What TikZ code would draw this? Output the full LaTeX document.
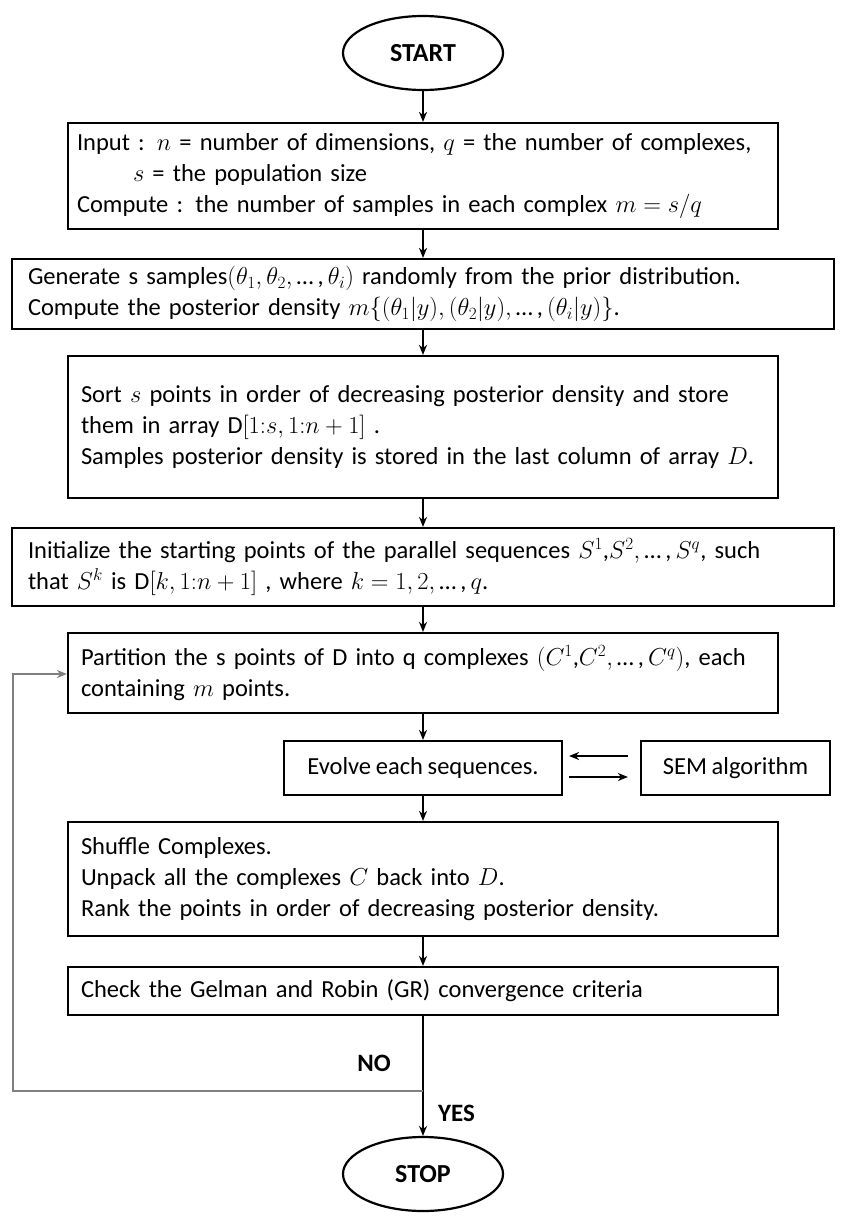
\RequirePackage{fix-cm}
\documentclass[tikz,border=0pt]{standalone}
\usepackage{fontspec}
\setmainfont{Carlito}[WordSpace=0.85]
\usetikzlibrary{arrows.meta,shapes.geometric}
\newcommand{\boxfont}{\fontsize{24.5}{31}\selectfont}
\newcommand{\eli}{\,…\,,\,}
\begin{document}
\begin{tikzpicture}[x=1pt,y=-1pt,
  box/.style={draw=black, line width=2.2pt, rectangle, inner ysep=0pt, align=left,
    font=\boxfont, anchor=center},
  term/.style={draw=black, ellipse, line width=2.2pt, minimum width=160pt, minimum height=74pt,
    inner sep=0pt, font=\fontsize{26}{30}\selectfont\bfseries},
  arr/.style={-{Stealth[length=10pt,width=8pt]}, line width=2pt},
  back/.style={draw=gray, line width=1.8pt, -{Stealth[length=10pt,width=8pt]}},
  lab/.style={font=\fontsize{25}{30}\selectfont\bfseries, inner sep=0pt}]
\useasboundingbox (0,0) rectangle (843,1216);
% terminals
\node[term] (start) at (423,53) {START};
\node[term] (stop) at (423,1174) {STOP};
% boxes
\node[box, inner xsep=9pt, text width=692pt, minimum height=106pt] (b1) at (423,176)
 {\mbox{Input : $n$ = number of dimensions, $q$ = the number of complexes,}\\
  \hspace*{56pt}$s$ = the population size\\
  \mbox{Compute : the number of samples in each complex $m=s/q$}};
\node[box, inner xsep=16pt, text width=790pt, minimum height=70pt] (b2) at (423,294)
 {\mbox{Generate s samples$(\theta_1,\theta_2,$\eli$\theta_i)$ randomly from the prior distribution.}\\
  \mbox{Compute the posterior density $m\{(\theta_1|y),(\theta_2|y),$\eli$(\theta_i|y)\}$.}};
\node[box, inner xsep=13pt, text width=684pt, minimum height=142pt] (b3) at (423,427)
 {\mbox{Sort $s$ points in order of decreasing posterior density and store}\\
  \mbox{them in array D$[1{:}s,1{:}n+1]$ .}\\
  \mbox{Samples posterior density is stored in the last column of array $D$.}};
\node[box, inner xsep=16pt, text width=790pt, minimum height=78pt] (b4) at (423,567)
 {\mbox{Initialize the starting points of the parallel sequences $S^1$,$S^2,$\eli$S^q$, such}\\
  \mbox{that $S^k$ is D$[k,1{:}n+1]$ , where $k=1,2,$\eli$q$.}};
\node[box, inner xsep=13pt, text width=684pt, minimum height=80pt] (b5) at (423,673)
 {\mbox{Partition the s points of D into q complexes $(C^1$,$C^2,$\eli$C^q)$, each}\\
  \mbox{containing $m$ points.}};
\node[box, inner xsep=8pt, minimum width=278pt, minimum height=54pt, align=center] (ev) at (423,768)
 {Evolve each sequences.};
\node[box, inner xsep=8pt, minimum width=189pt, minimum height=54pt, align=center] (sem) at (735.5,768)
 {SEM algorithm};
\node[box, inner xsep=13pt, text width=684pt, minimum height=114pt] (b6) at (423,879)
 {\mbox{Shuffle Complexes.}\\
  \mbox{Unpack all the complexes $C$ back into $D$.}\\
  \mbox{Rank the points in order of decreasing posterior density.}};
\node[box, inner xsep=13pt, text width=684pt, minimum height=48pt] (b7) at (423,991)
 {\mbox{Check the Gelman and Robin (GR) convergence criteria}};
% labels
\node[lab, anchor=east] (no) at (391,1063) {NO};
\node[lab, anchor=west] (yes) at (438,1113) {YES};
% connectors
\draw[arr] (start.south) -- (b1.north);
\draw[arr] (b1.south) -- (b2.north);
\draw[arr] (b2.south) -- (b3.north);
\draw[arr] (b3.south) -- (b4.north);
\draw[arr] (b4.south) -- (b5.north);
\draw[arr] (b5.south) -- (ev.north);
\draw[arr] (ev.south) -- (b6.north);
\draw[arr] (b6.south) -- (b7.north);
\draw[arr] (b7.south) -- (stop.north);
\draw[arr, shorten <=12pt, shorten >=6pt] ([yshift=12pt]sem.west) -- ([yshift=12pt]sem.west -| ev.east);
\draw[arr, shorten <=6pt, shorten >=12pt] ([yshift=-9pt]ev.east) -- ([yshift=-9pt]ev.east -| sem.west);
% feedback loop
\coordinate (j) at (423,1091);
\coordinate (fbl) at (13,1091);
\coordinate (fbu) at (13,674);
\draw[back] (j) -- (fbl) -- (fbu) -- (fbu -| b5.west);
\end{tikzpicture}
\end{document}
